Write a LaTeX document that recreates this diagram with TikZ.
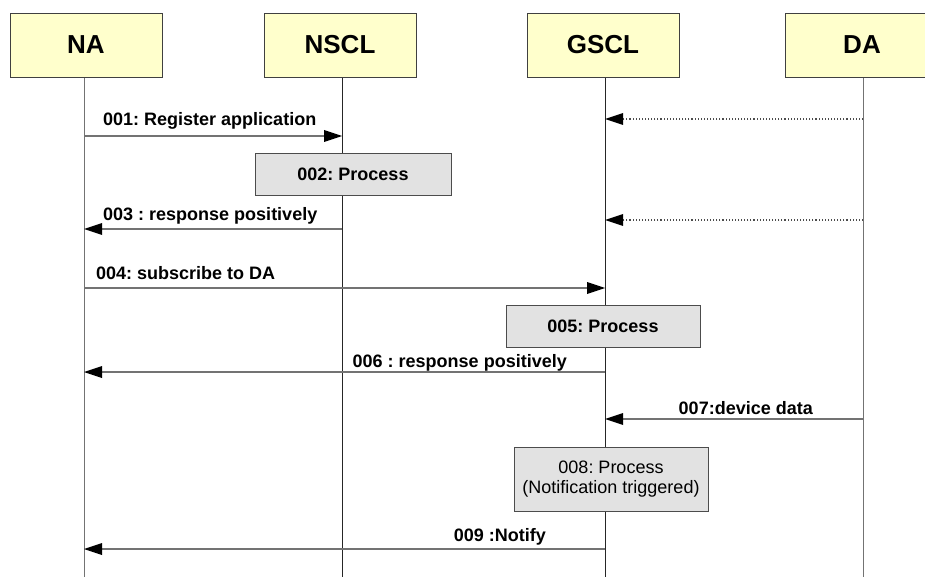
\documentclass[tikz,border=0pt]{standalone}
\usepackage{fontspec}
\setmainfont{Liberation Sans}
\frenchspacing
\usetikzlibrary{arrows.meta}
\definecolor{hdrfill}{HTML}{FFFFCC}
\definecolor{procfill}{HTML}{E2E2E2}
\begin{document}
\begin{tikzpicture}[x=1pt,y=-1pt,
  hdr/.style={draw=black!75,line width=0.9pt,fill=hdrfill,minimum width=152pt,minimum height=64pt,inner sep=0pt,
    font=\fontsize{26}{30}\selectfont\bfseries},
  proc/.style={draw=black!70,line width=0.9pt,fill=procfill,inner sep=0pt,align=center,
    font=\fontsize{18}{20}\selectfont},
  life/.style={line width=1pt},
  tip/.style={-{Triangle[length=18pt,width=12pt,color=black,line width=0pt]}},
  msg/.style={draw=black!55,line width=1.2pt,tip},
  dmsg/.style={draw=black!70,line width=1.1pt,dotted,tip},
  lbl/.style={font=\fontsize{18}{20}\selectfont\bfseries,inner sep=0pt}]
\useasboundingbox (0,0) rectangle (925,577);
\fill[white] (0,0) rectangle (925,577);
% lifeline bottoms
\coordinate (naB) at (84,577);
\coordinate (nsB) at (342,577);
\coordinate (gsB) at (605,577);
\coordinate (daB) at (863,577);
% lifelines
\draw[life,black!55] (84,77) -- (naB);
\draw[life,black!85] (342,77) -- (nsB);
\draw[life,black!85] (605,77) -- (gsB);
\draw[life,black!55] (863,77) -- (daB);
% headers
\node[hdr] (na) at (86,45) {NA};
\node[hdr] (nscl) at (340,45) {NSCL};
\node[hdr] (gscl) at (603,45) {GSCL};
\node[hdr,minimum width=190pt] (da) at (880,45) {\hspace*{-36pt}DA};
% process boxes
\node[proc,minimum width=196pt,minimum height=42pt,font=\fontsize{18}{20}\selectfont\bfseries] (p2) at (353,174) {002: Process};
\node[proc,minimum width=194pt,minimum height=42pt,font=\fontsize{18}{20}\selectfont\bfseries] (p5) at (603,326) {005: Process};
\node[proc,minimum width=194pt,minimum height=64pt] (p8) at (611,479) {008: Process\\(Notification triggered)};
% message endpoints
\coordinate (m1a) at (84,136);  \coordinate (m1b) at (342,136);
\coordinate (d1a) at (863,119); \coordinate (d1b) at (605,119);
\coordinate (m3a) at (342,229); \coordinate (m3b) at (84,229);
\coordinate (d2a) at (863,220); \coordinate (d2b) at (605,220);
\coordinate (m4a) at (84,288);  \coordinate (m4b) at (605,288);
\coordinate (m6a) at (605,372); \coordinate (m6b) at (84,372);
\coordinate (m7a) at (863,419); \coordinate (m7b) at (605,419);
\coordinate (m9a) at (605,549); \coordinate (m9b) at (84,549);
% messages
\draw[msg] (m1a) -- (m1b);
\draw[dmsg] (d1a) -- (d1b);
\draw[msg] (m3a) -- (m3b);
\draw[dmsg] (d2a) -- (d2b);
\draw[msg] (m4a) -- (m4b);
\draw[msg] (m6a) -- (m6b);
\draw[msg] (m7a) -- (m7b);
\draw[msg] (m9a) -- (m9b);
% labels
\node[lbl,anchor=base west] (l1) at (103,126) {001: Register application};
\node[lbl,anchor=base west] (l3) at (103,221) {003 : response positively};
\node[lbl,anchor=base west] (l4) at (96,279) {004: subscribe to DA};
\node[lbl,anchor=base east] (l6) at (567,367) {006 : response positively};
\node[lbl,anchor=base east] (l7) at (813,414) {007:device data};
\node[lbl,anchor=base east] (l9) at (546,541) {009 :Notify};
\end{tikzpicture}
\end{document}
